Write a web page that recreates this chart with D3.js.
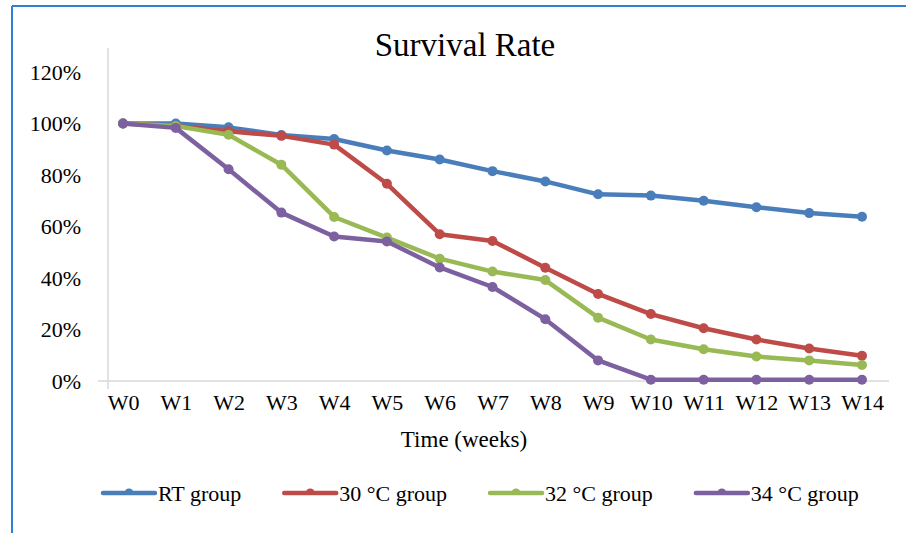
<!DOCTYPE html>
<html><head><meta charset="utf-8">
<script src="https://cdn.jsdelivr.net/npm/d3@7"></script>
<style>body{margin:0;background:#fff}svg{display:block}</style>
</head><body><svg id="c" width="906" height="533"></svg>
<script>
const FONT = "'Liberation Serif', 'Times New Roman', Tinos, 'DejaVu Serif', 'Noto Serif', serif";
const categories = ["W0","W1","W2","W3","W4","W5","W6","W7","W8","W9","W10","W11","W12","W13","W14"];
const seriesNames = ["RT group","30 °C group","32 °C group","34 °C group"];
const rtGroup  = [1.00,1.00,0.985,0.955,0.94,0.895,0.86,0.815,0.775,0.725,0.72,0.70,0.675,0.652,0.638];
const c30Group = [1.00,0.99,0.97,0.952,0.918,0.766,0.57,0.544,0.44,0.338,0.26,0.205,0.161,0.126,0.098];
const c32Group = [1.00,0.99,0.956,0.84,0.637,0.557,0.475,0.425,0.392,0.246,0.161,0.123,0.095,0.08,0.062];
const c34Group = [1.00,0.983,0.822,0.654,0.561,0.542,0.441,0.365,0.24,0.08,0.005,0.005,0.005,0.005,0.005];
const yTicks = [0,0.2,0.4,0.6,0.8,1.0,1.2];
const colors = ["#4a7ebb","#be4b48","#98b954","#7d60a0"];
const allSeries = [rtGroup,c30Group,c32Group,c34Group];

const svg = d3.select("#c").attr("font-family", FONT);
svg.append("line").attr("x1",12).attr("x2",906).attr("y1",6).attr("y2",6).attr("stroke","#2f7fd4").attr("stroke-width",2);
svg.append("line").attr("x1",12).attr("x2",12).attr("y1",6).attr("y2",533).attr("stroke","#2f7fd4").attr("stroke-width",2);

const x = d3.scalePoint().domain(categories).range([123,862]);
const y = d3.scaleLinear().domain([0,1.2]).range([381,72]);

function txt(sel){ return sel.attr("font-family",FONT).style("font-family",FONT).attr("fill","#000"); }

txt(svg.append("text")).attr("x",465).attr("y",56).attr("text-anchor","middle").attr("font-size",33).text("Survival Rate");

svg.append("line").attr("x1",108).attr("x2",108).attr("y1",48).attr("y2",389).attr("stroke","#d9d9d9").attr("stroke-width",1.5);
svg.append("line").attr("x1",98).attr("x2",889).attr("y1",y(0)).attr("y2",y(0)).attr("stroke","#d9d9d9").attr("stroke-width",1.5);

const yAxis = d3.axisLeft(y).tickValues(yTicks).tickFormat(d3.format(".0%")).tickSize(0).tickPadding(0);
const yg = svg.append("g").attr("transform","translate(81,0)").call(yAxis);
yg.attr("font-family",FONT);
yg.select(".domain").remove();
txt(yg.selectAll("text")).attr("font-size",22).style("font-size","22px");

const xAxis = d3.axisBottom(x).tickSize(0).tickPadding(0);
const xg = svg.append("g").attr("transform","translate(0,394)").call(xAxis);
xg.attr("font-family",FONT);
xg.select(".domain").remove();
txt(xg.selectAll("text")).attr("font-size",22).style("font-size","22px");

txt(svg.append("text")).attr("x",464).attr("y",447).attr("text-anchor","middle").attr("font-size",23).text("Time (weeks)");

const line = d3.line().x((d,i)=>x(categories[i])).y(d=>y(d));
allSeries.forEach((s,k)=>{
  const g = svg.append("g");
  g.append("path").datum(s).attr("d",line).attr("fill","none").attr("stroke",colors[k]).attr("stroke-width",4.5).attr("stroke-linejoin","round").attr("stroke-linecap","round");
  g.selectAll("circle").data(s).join("circle").attr("cx",(d,i)=>x(categories[i])).attr("cy",d=>y(d)).attr("r",5).attr("fill",colors[k]);
});

let lx = 103;
const ly = 493;
seriesNames.forEach((n,k)=>{
  const g = svg.append("g");
  g.append("line").attr("x1",lx).attr("x2",lx+52).attr("y1",ly).attr("y2",ly).attr("stroke",colors[k]).attr("stroke-width",4.5).attr("stroke-linecap","round");
  g.append("path").attr("d",d3.arc()({innerRadius:0,outerRadius:4.5,startAngle:-Math.PI/2,endAngle:Math.PI/2})).attr("transform",`translate(${lx+26},${ly})`).attr("fill",colors[k]);
  const t = txt(g.append("text")).attr("x",lx+55).attr("y",ly+8).attr("font-size",22).text(n);
  const w = t.node().getComputedTextLength();
  lx = lx + 55 + w + 43;
});
</script></body></html>
